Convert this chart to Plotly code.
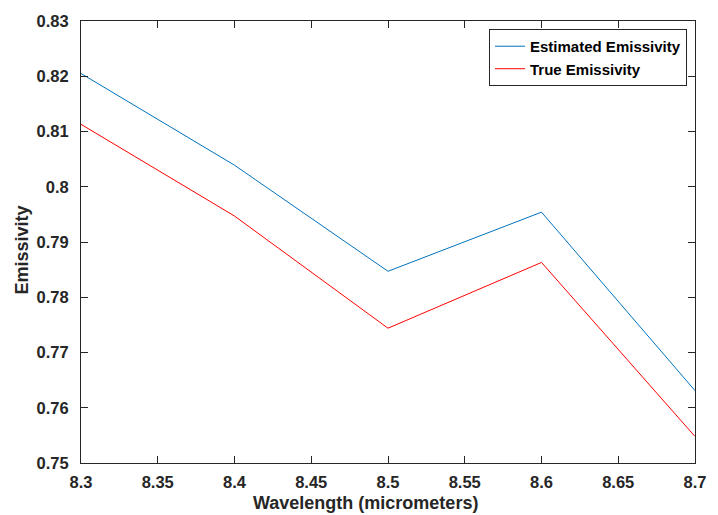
import plotly.graph_objects as go

wavelength = [8.3, 8.4, 8.5, 8.6, 8.7]
estimated = [0.8205, 0.8039, 0.7847, 0.7954, 0.7631]
true_emis = [0.8113, 0.7947, 0.7744, 0.7863, 0.7548]

x_ticks = [8.3, 8.35, 8.4, 8.45, 8.5, 8.55, 8.6, 8.65, 8.7]
x_ticktext = ["8.3", "8.35", "8.4", "8.45", "8.5", "8.55", "8.6", "8.65", "8.7"]
y_ticks = [0.75, 0.76, 0.77, 0.78, 0.79, 0.80, 0.81, 0.82, 0.83]
y_ticktext = ["0.75", "0.76", "0.77", "0.78", "0.79", "0.8", "0.81", "0.82", "0.83"]

FONT = "Liberation Sans, Arial, Helvetica, sans-serif"
AX = "#262626"

fig = go.Figure()
fig.add_trace(go.Scatter(x=wavelength, y=estimated, mode="lines",
                         name="Estimated Emissivity",
                         line=dict(color="#0072BD", width=1)))
fig.add_trace(go.Scatter(x=wavelength, y=true_emis, mode="lines",
                         name="True Emissivity",
                         line=dict(color="#FF0000", width=1)))

axis_common = dict(showgrid=False, zeroline=False, showline=True, linecolor=AX,
                   linewidth=1, ticks="inside", ticklen=7, tickcolor=AX,
                   mirror="ticks",
                   tickfont=dict(family=FONT, size=16.5, color=AX, weight="bold"))

fig.update_xaxes(range=[8.3, 8.7], tickvals=x_ticks, ticktext=x_ticktext,
                 ticklabelstandoff=4, **axis_common)
fig.update_yaxes(range=[0.75, 0.83], tickvals=y_ticks, ticktext=y_ticktext,
                 ticklabelstandoff=8, **axis_common)

fig.add_annotation(text="Wavelength (micrometers)", xref="paper", yref="paper",
                   x=0.464, y=-0.0895, xanchor="center", yanchor="middle",
                   showarrow=False,
                   font=dict(family=FONT, size=18, color=AX, weight="bold"))
fig.add_annotation(text="Emissivity", xref="paper", yref="paper",
                   x=-0.096, y=0.481, xanchor="center", yanchor="middle",
                   textangle=-90, showarrow=False,
                   font=dict(family=FONT, size=18, color=AX, weight="bold"))

fig.update_layout(
    width=718, height=515, autosize=False,
    margin=dict(l=81, r=12, t=16, b=52),
    plot_bgcolor="white", paper_bgcolor="white",
    showlegend=True,
    legend=dict(x=0.987, y=0.982, xanchor="right", yanchor="top",
                bordercolor=AX, borderwidth=1, bgcolor="white",
                font=dict(family=FONT, size=15, color="black", weight="bold"),
                tracegroupgap=0, itemwidth=30),
)

fig.write_html("out.html")
